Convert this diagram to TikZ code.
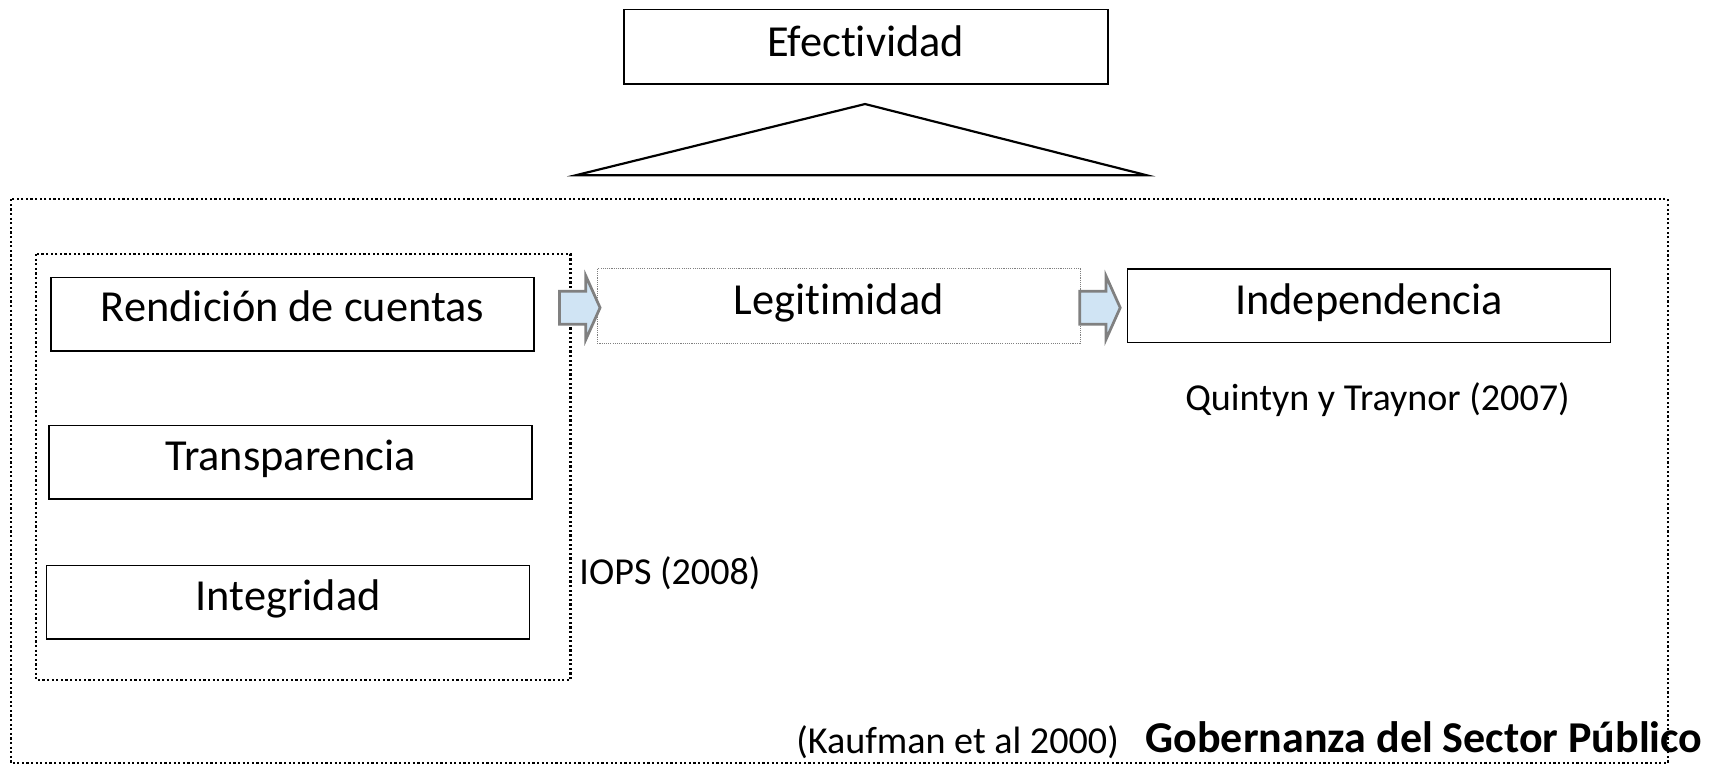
\documentclass[tikz,border=0pt]{standalone}
\usepackage{fontspec}
\setmainfont[Ligatures=NoCommon]{Carlito}
\definecolor{arrowfill}{RGB}{208,228,244}
\definecolor{arrowdraw}{RGB}{128,128,128}
\begin{document}
\begin{tikzpicture}[x=1pt,y=-1pt,
  box/.style={draw=black,line width=1.3pt,minimum width=441pt,minimum height=67pt,inner sep=0pt,font=\fontsize{40.5}{46}\selectfont},
  dotbox/.style={draw=black,line width=2pt,dash pattern=on 2pt off 2.2pt},
  blockarrow/.style={draw=arrowdraw,fill=arrowfill,line width=2.5pt,line join=miter},
  lbl/.style={inner sep=0pt,font=\fontsize{34.8}{40}\selectfont}]
\useasboundingbox (0,0) rectangle (1568,698.6);
% Efectividad
\node[box,anchor=north west,minimum width=442pt,minimum height=68pt] (ef) at (569,8) {\raisebox{10pt}{Efectividad}};
% triangle
\coordinate (tA) at (790,95);
\coordinate (tB) at (526,160);
\coordinate (tC) at (1047,160);
\draw[line width=2pt,line join=miter] (tA) -- (tC) -- (tB) -- cycle;
% outer dotted
\draw[dotbox] (10,182) rectangle (1523,697);
% inner dotted
\draw[dotbox] (33,232) rectangle (521,621);
% left boxes
\node[box,anchor=north west] (rc) at (46,253) {\raisebox{16pt}{Rendición de cuentas}};
\node[box,anchor=north west] (tr) at (44,388) {\raisebox{13pt}{Transparencia}};
\node[box,anchor=north west] (in) at (42,516) {\raisebox{14pt}{Integridad}};
% legitimidad
\node[box,anchor=north west,draw=gray,line width=0.8pt,dash pattern=on 1pt off 1pt,minimum height=68pt] (lg) at (545,245) {\raisebox{13pt}{Legitimidad}};
% independencia
\node[box,anchor=north west,line width=1.2pt] (id) at (1029,245) {\raisebox{12pt}{Independencia}};
% arrows
\coordinate (a1) at (511,266);
\draw[blockarrow] (a1) -- ++(24,0) -- ++(0,-14) -- ++(13,29) -- ++(-13,29) -- ++(0,-14) -- ++(-24,0) -- cycle;
\coordinate (a2) at (986,266);
\draw[blockarrow] (a2) -- ++(24,0) -- ++(0,-14) -- ++(13,29) -- ++(-13,29) -- ++(0,-14) -- ++(-24,0) -- cycle;
% labels
\node[lbl] (qt) at (1258,365) {Quintyn y Traynor (2007)};
\node[lbl,anchor=west] (iops) at (529,523) {IOPS (2008)};
\node[lbl,anchor=west] (kf) at (727,678) {(Kaufman et al 2000)};
\node[lbl,anchor=west,font=\fontsize{40.2}{46}\selectfont\bfseries] (gb) at (1046,673) {Gobernanza del Sector Público};
\end{tikzpicture}
\end{document}
